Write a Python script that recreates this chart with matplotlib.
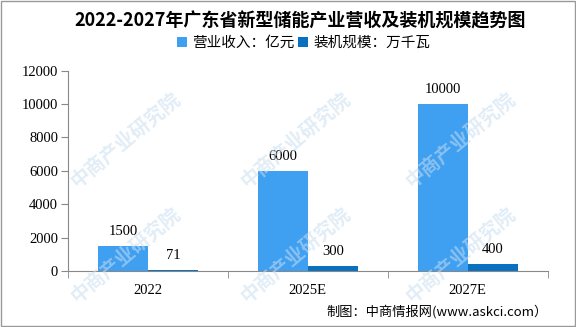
import numpy as np
import matplotlib.pyplot as plt
from matplotlib.patches import Rectangle

years = ['2022', '2025E', '2027E']
revenue = [1500, 6000, 10000]
capacity = [71, 300, 400]
yticks = [0, 2000, 4000, 6000, 8000, 10000, 12000]

serif = ['Liberation Serif', 'Noto Sans CJK SC']
sans = ['Noto Sans CJK SC', 'DejaVu Sans']
plt.rcParams['font.family'] = sans

fig = plt.figure(figsize=(5.76, 3.27), dpi=100)
ax = fig.add_axes([0.118, 0.171, 0.833, 0.613])

x = np.arange(len(years))
width = 0.3125
c1 = '#3f9ff0'
c2 = '#0a70c0'
b1 = ax.bar(x - width/2, revenue, width, color=c1, label='营业收入：亿元')
b2 = ax.bar(x + width/2, capacity, width, color=c2, label='装机规模：万千瓦')

for rects, vals in [(b1, revenue), (b2, capacity)]:
    for r, v in zip(rects, vals):
        ax.annotate('{}'.format(v), xy=(r.get_x() + r.get_width()/2, r.get_height()),
                    xytext=(0, 6), textcoords='offset points',
                    ha='center', va='bottom', fontsize=10.5, family=serif)

ax.set_xlim(-0.5, 2.5)
ax.set_ylim(0, 12000)
ax.set_yticks(yticks)
ax.set_yticklabels([str(t) for t in yticks], family=serif, fontsize=10.5)
ax.set_xticks(x)
ax.set_xticklabels(years, family=serif, fontsize=10.5)
ax.tick_params(axis='x', length=0, pad=9)
ax.set_xticks([-0.5, 0.5, 1.5, 2.5], minor=True)
ax.tick_params(axis='x', which='minor', length=5, color='#888888')
ax.tick_params(axis='y', length=5, color='#888888', pad=2)
for s in ['top', 'right']:
    ax.spines[s].set_visible(False)
ax.spines['left'].set_color('#888888')
ax.spines['bottom'].set_color('#888888')

# watermark
for cx in [125, 295, 460]:
    for cy in [140, 255]:
        fig.text(cx / 576, 1 - cy / 327, '中商产业研究院', rotation=40,
                 ha='center', va='center', fontsize=14, fontweight='bold',
                 color='#c9def0', alpha=0.55, family=sans, zorder=10)

fig.text(0.521, 0.936, '2022-2027年广东省新型储能产业营收及装机规模趋势图',
         ha='center', va='center', fontsize=13, fontweight='bold', family=sans)
ax.legend(loc='center', bbox_to_anchor=(0.527, 0.868), bbox_transform=fig.transFigure,
          ncol=2, frameon=False, handlelength=0.7, handleheight=0.7,
          handletextpad=0.35, columnspacing=0.2, fontsize=10.5)
fig.text(0.951, 0.046, '制图：中商情报网(www.askci.com）', ha='right', va='center',
         fontsize=9.5, family=sans)

fig.patches.append(Rectangle((0.001, 0.002), 0.997, 0.995, transform=fig.transFigure,
                             fill=False, edgecolor='#999999', linewidth=1))

fig.savefig('out.png', dpi=100)
